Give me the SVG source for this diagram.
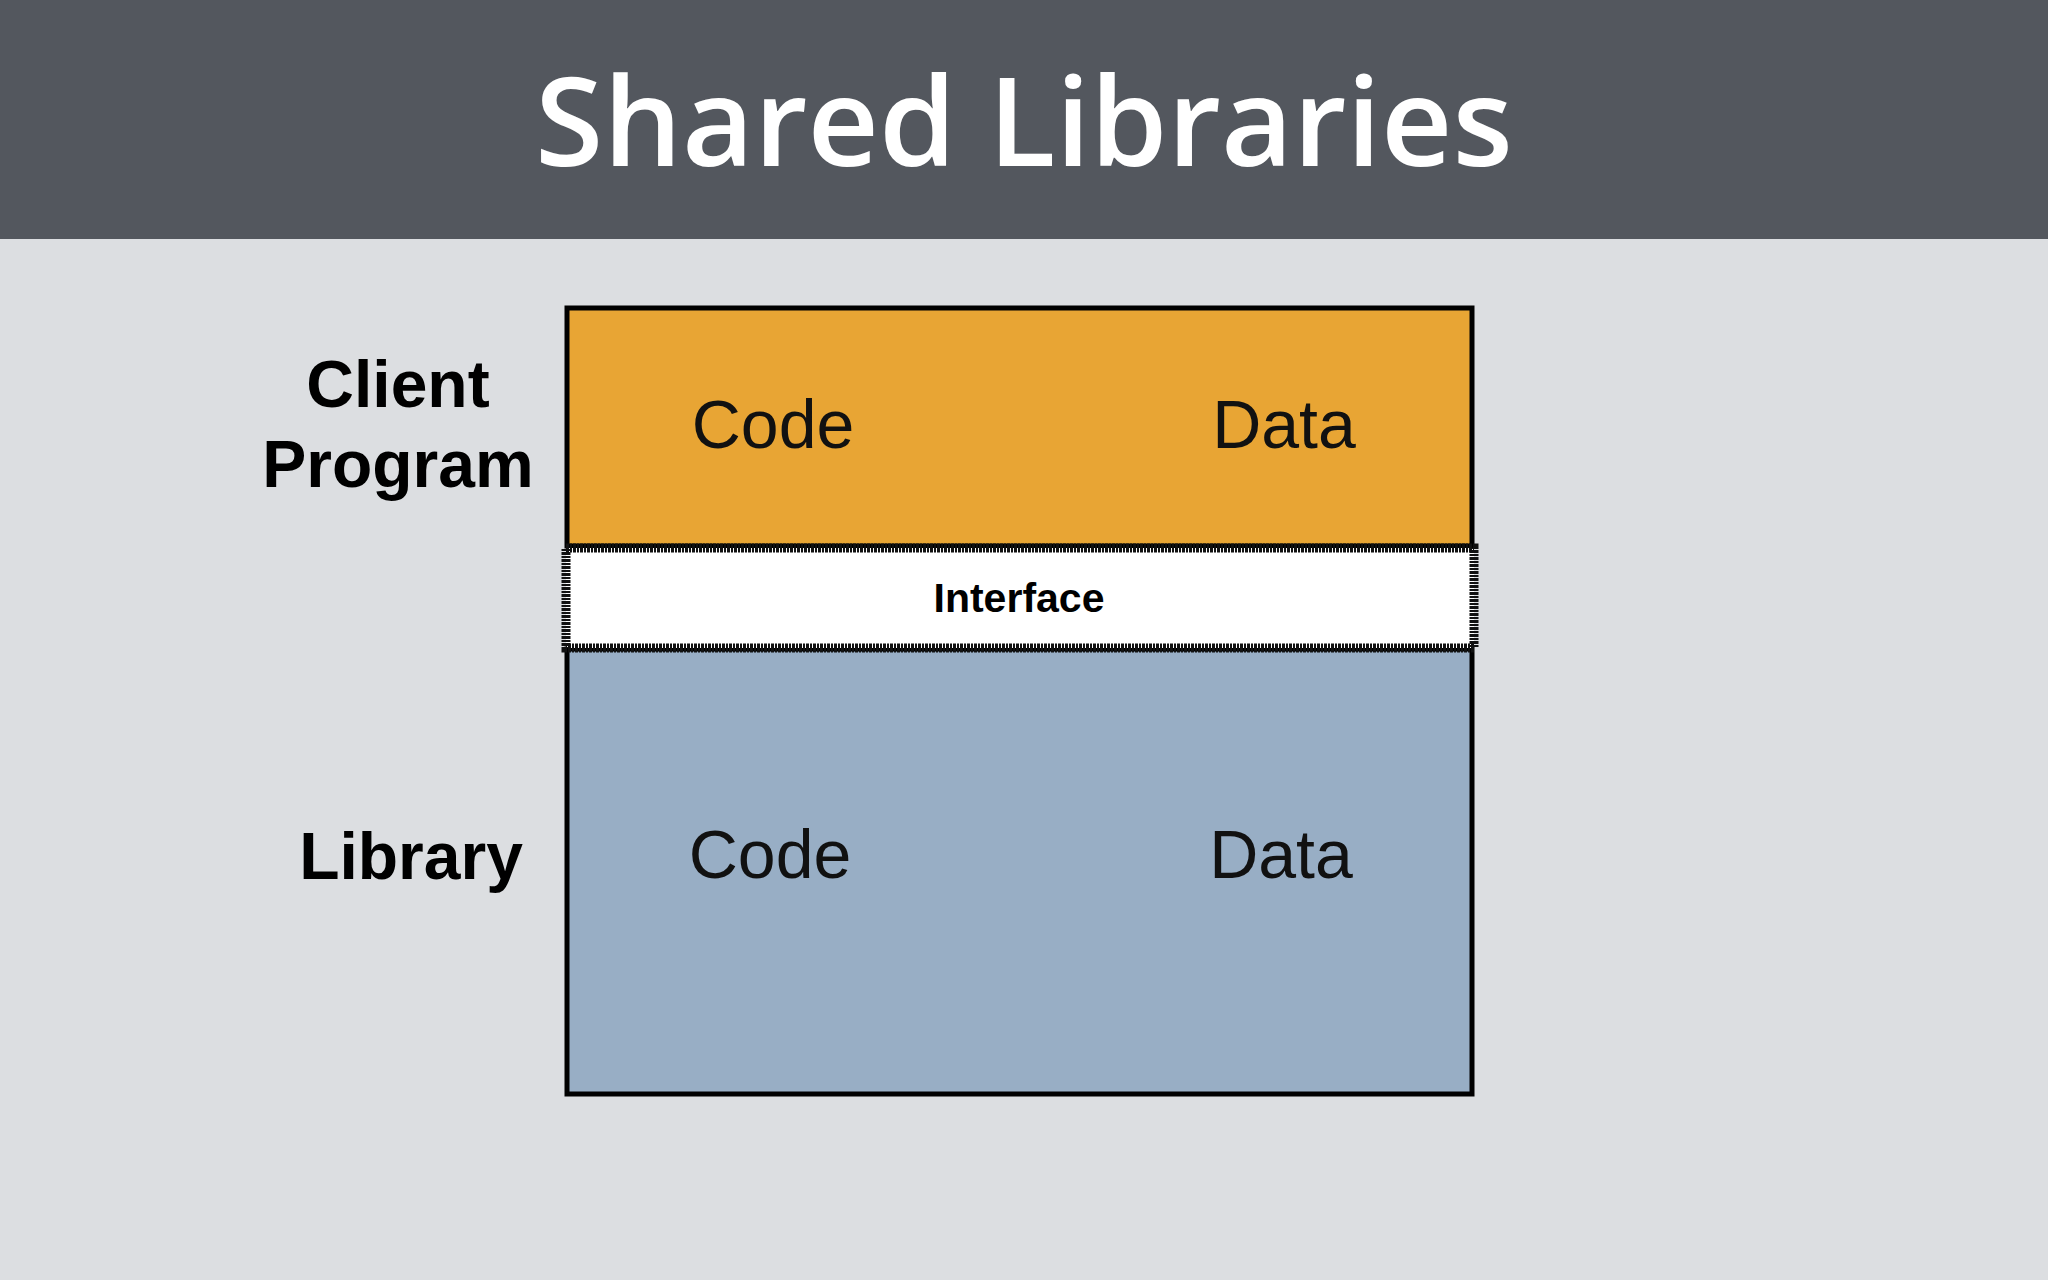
<svg xmlns="http://www.w3.org/2000/svg" width="2048" height="1280" viewBox="0 0 2048 1280">
<style>
.lbl{font-family:"Liberation Sans",Arial,sans-serif;font-weight:bold;font-size:66px;fill:#000;text-anchor:middle}
.in{font-family:"Liberation Sans",Arial,sans-serif;font-size:68px;fill:#111;text-anchor:middle}
</style>
<rect width="2048" height="1280" fill="#dcdee1"/>
<rect width="2048" height="239" fill="#53575e"/>
<text x="1024" y="166" font-family="'Open Sans','Liberation Sans',sans-serif" font-size="124" font-weight="600" fill="#fff" text-anchor="middle">Shared Libraries</text>
<g id="client-label"><text class="lbl" x="398" y="407">Client</text><text class="lbl" x="398" y="487">Program</text></g>
<g id="library-label"><text class="lbl" x="411" y="879">Library</text></g>
<g id="client"><rect x="567" y="308" width="905" height="238" fill="#e8a534" stroke="#000" stroke-width="5"/>
<text class="in" x="773" y="448">Code</text><text class="in" x="1284" y="448">Data</text></g>
<g id="library"><rect x="567" y="649" width="905" height="445" fill="#98aec5" stroke="#000" stroke-width="5"/>
<text class="in" x="770" y="878">Code</text><text class="in" x="1281" y="878">Data</text></g>
<g id="interface"><rect x="566" y="548" width="908" height="100" fill="#fff" stroke="#111" stroke-width="9" stroke-dasharray="3 1 2 1"/>
<text x="1019" y="612" font-family="'Liberation Sans',Arial,sans-serif" font-weight="bold" font-size="41" text-anchor="middle">Interface</text></g>
<g id="connectors"/>
</svg>
